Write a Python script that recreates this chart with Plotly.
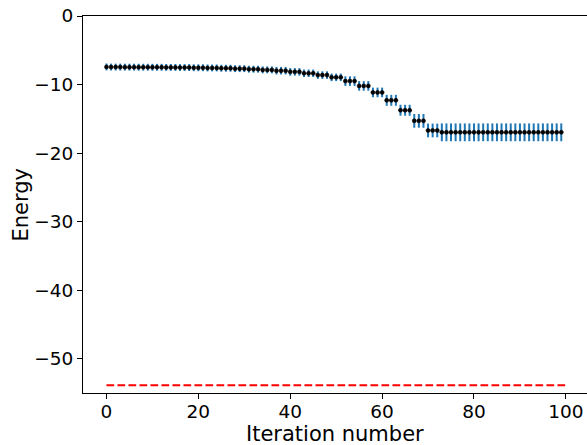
import plotly.graph_objects as go

iterations = list(range(100))
energy = [
    -7.43,
    -7.45, -7.45, -7.45,
    -7.46, -7.46, -7.46,
    -7.47, -7.47, -7.47,
    -7.48, -7.48, -7.48,
    -7.50, -7.50, -7.50,
    -7.52, -7.52, -7.52,
    -7.55, -7.55, -7.55,
    -7.58, -7.58, -7.58,
    -7.62, -7.62, -7.62,
    -7.68, -7.68, -7.68,
    -7.76, -7.76, -7.76,
    -7.86, -7.86, -7.86,
    -7.98, -7.98, -7.98,
    -8.15, -8.15, -8.15,
    -8.36, -8.36, -8.36,
    -8.62, -8.62, -8.62,
    -8.95, -8.95, -8.95,
    -9.50, -9.50, -9.50,
    -10.20, -10.20, -10.20,
    -11.15, -11.15, -11.15,
    -12.30, -12.30, -12.30,
    -13.75, -13.75, -13.75,
    -15.30, -15.30, -15.30,
    -16.70, -16.70, -16.70,
    -16.97, -16.97, -16.97, -16.97, -16.97, -16.97, -16.97, -16.97, -16.97,
    -16.97, -16.97, -16.97, -16.97, -16.97, -16.97, -16.97, -16.97, -16.97,
    -16.97, -16.97, -16.97, -16.97, -16.97, -16.97, -16.97, -16.97, -16.97,
]
energy_err = [
    0.5,
    0.5, 0.5, 0.5, 0.5, 0.5, 0.5, 0.5, 0.5, 0.5,
    0.5, 0.5, 0.5, 0.5, 0.5, 0.5, 0.5, 0.5, 0.5,
    0.5, 0.5, 0.5, 0.5, 0.5, 0.5, 0.5, 0.5, 0.5,
    0.5, 0.5, 0.5, 0.5, 0.5, 0.5, 0.5, 0.5, 0.5,
    0.55, 0.55, 0.55, 0.55, 0.55, 0.55, 0.55, 0.55, 0.55,
    0.55, 0.55, 0.55, 0.55, 0.55, 0.55,
    0.7, 0.7, 0.7, 0.7, 0.7, 0.7, 0.7, 0.7, 0.7,
    0.8, 0.8, 0.8, 0.8, 0.8, 0.8,
    1.0, 1.0, 1.0, 1.0, 1.0, 1.0,
    1.3, 1.3, 1.3, 1.3, 1.3, 1.3, 1.3, 1.3, 1.3,
    1.3, 1.3, 1.3, 1.3, 1.3, 1.3, 1.3, 1.3, 1.3,
    1.3, 1.3, 1.3, 1.3, 1.3, 1.3, 1.3, 1.3, 1.3,
]
exact_x = [0, 100]
exact_energy = [-53.86, -53.86]

x_ticks = [0, 20, 40, 60, 80, 100]
y_ticks = [0, -10, -20, -30, -40, -50]
x_title = "Iteration number"
y_title = "Energy"

fig = go.Figure()
fig.add_trace(go.Scatter(
    x=exact_x, y=exact_energy, mode="lines",
    line=dict(color="red", width=2, dash="7.7px,3.3px"),
    showlegend=False, hoverinfo="skip",
))
fig.add_trace(go.Scatter(
    x=iterations, y=energy, mode="markers",
    marker=dict(color="black", size=4, line=dict(color="black", width=0.6)),
    error_y=dict(type="data", array=energy_err, color="#1f77b4", thickness=2, width=0),
    showlegend=False,
))

axis_font = dict(family="DejaVu Sans", size=18.5, color="black")
title_font = dict(family="DejaVu Sans", size=21, color="black")
fig.update_layout(
    width=587, height=445,
    margin=dict(l=83, r=0, t=16, b=52),
    paper_bgcolor="white", plot_bgcolor="white",
    font=dict(family="DejaVu Sans", color="black"),
    xaxis=dict(
        range=[-5.11, 104.6], tickvals=x_ticks, ticks="outside", ticklen=5, tickwidth=1.1,
        tickcolor="black", showline=True, linecolor="black", linewidth=1.1, mirror=True,
        showgrid=False, zeroline=False, tickfont=axis_font, automargin=False,
        ticklabelstandoff=-3,
    ),
    yaxis=dict(
        range=[-55, 0], tickvals=y_ticks, ticks="outside", ticklen=5, tickwidth=1.1,
        tickcolor="black", showline=True, linecolor="black", linewidth=1.1, mirror=False,
        showgrid=False, zeroline=False, tickfont=axis_font, automargin=False,
    ),
    annotations=[
        dict(text=x_title, xref="paper", yref="paper", x=0.5, y=-0.1088,
             xanchor="center", yanchor="middle", showarrow=False, font=title_font,
             borderpad=0),
        dict(text=y_title, xref="paper", yref="paper", x=-0.125, y=0.5, textangle=-90,
             xanchor="center", yanchor="middle", showarrow=False, font=title_font,
             borderpad=0),
    ],
)
fig.write_html(
    "out.html",
    config={"displayModeBar": False},
    post_script="document.body.style.margin='0';document.body.style.overflow='hidden';",
)
